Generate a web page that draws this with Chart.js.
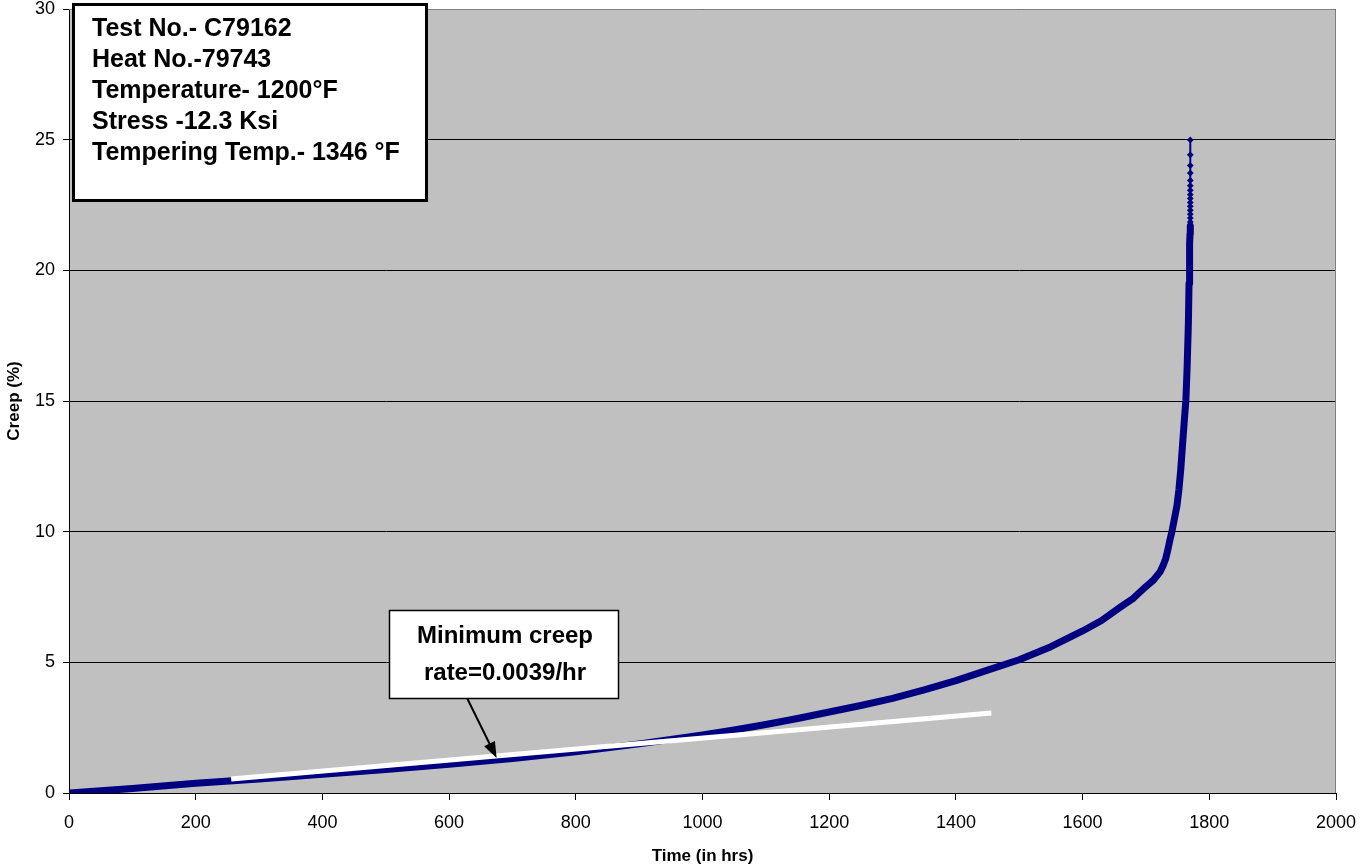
<!DOCTYPE html>
<html>
<head>
<meta charset="utf-8">
<script src="https://cdn.jsdelivr.net/npm/chart.js@4.4.1/dist/chart.umd.min.js"></script>
<style>
  html, body { margin: 0; padding: 0; background: #fff; }
  #wrap { width: 1361px; height: 867px; }
</style>
</head>
<body>
<div id="wrap"><canvas id="creepChart"></canvas></div>
<script>
// creep test readings: time (hrs) vs creep (%)
const hours = [0, 100, 200, 300, 400, 500, 600, 700, 800, 900, 1000, 1050, 1100, 1150, 1200, 1250,
    1300, 1350, 1400, 1450, 1500, 1550, 1600, 1630, 1659, 1680, 1700, 1712, 1722, 1727, 1731, 1735,
    1738, 1741, 1745, 1749, 1752, 1755, 1758, 1761, 1763, 1765, 1767, 1768, 1768.6, 1769.2, 1769.6, 1770,
    1770, 1770, 1770, 1770, 1770, 1770, 1770, 1770, 1770, 1770, 1770, 1770, 1770, 1770, 1770];
const creep = [0, 0.17, 0.37, 0.54, 0.72, 0.9, 1.1, 1.32, 1.58, 1.88, 2.22, 2.41, 2.62, 2.85, 3.1, 3.35,
    3.62, 3.95, 4.3, 4.7, 5.1, 5.6, 6.2, 6.6, 7.1, 7.45, 7.9, 8.15, 8.45, 8.7, 8.95, 9.35,
    9.7, 10, 10.5, 11.0, 11.6, 12.4, 13.4, 14.4, 15, 16.3, 18, 19.5, 20.4, 21, 21.4, 21.7,
    21.85, 22.0, 22.15, 22.3, 22.45, 22.6, 22.75, 22.9, 23.06, 23.24, 23.44, 23.72, 24.01, 24.42, 24.99];

// minimum creep rate tangent line
const trendHours = [256, 1456];
const trendCreep = [0.54, 3.06];

const infoLines = [
    'Test No.- C79162',
    'Heat No.-79743',
    'Temperature- 1200\u00B0F',
    'Stress -12.3 Ksi',
    'Tempering Temp.- 1346 \u00B0F'
];
const rateLines = ['Minimum creep', 'rate=0.0039/hr'];
const arrowTip = { x: 675, y: 1.34 };

const FONT = '"Liberation Sans", Arial, sans-serif';
const NAVY = '#000080';

const curveData = hours.map((h, i) => ({ x: h, y: creep[i] }));
const trendData = trendHours.map((h, i) => ({ x: h, y: trendCreep[i] }));

const plotBg = {
    id: 'plotBg',
    beforeDraw(chart) {
        const { ctx, chartArea: a } = chart;
        ctx.save();
        ctx.fillStyle = '#C0C0C0';
        ctx.fillRect(a.left, a.top, a.right - a.left, a.bottom - a.top);
        ctx.restore();
    },
    afterDraw(chart) {
        const { ctx, chartArea: a } = chart;
        ctx.save();
        ctx.strokeStyle = '#808080';
        ctx.lineWidth = 1;
        ctx.beginPath();
        ctx.moveTo(a.left, a.top + 0.5);
        ctx.lineTo(a.right - 0.5, a.top + 0.5);
        ctx.lineTo(a.right - 0.5, a.bottom);
        ctx.stroke();
        ctx.restore();
    }
};

const notes = {
    id: 'notes',
    afterDraw(chart) {
        const ctx = chart.ctx;
        const xs = chart.scales.x, ys = chart.scales.y;
        ctx.save();

        // test details box
        ctx.fillStyle = '#fff';
        ctx.fillRect(73, 4, 354, 197);
        ctx.strokeStyle = '#000';
        ctx.lineWidth = 3;
        ctx.strokeRect(73.5, 4.5, 353, 196);
        ctx.fillStyle = '#000';
        ctx.font = 'bold 25px ' + FONT;
        ctx.textBaseline = 'middle';
        ctx.textAlign = 'left';
        infoLines.forEach((t, i) => ctx.fillText(t, 92, 29 + i * 31));

        // callout arrow
        const x0 = 467, y0 = 698;
        const x1 = xs.getPixelForValue(arrowTip.x), y1 = ys.getPixelForValue(arrowTip.y);
        const ang = Math.atan2(y1 - y0, x1 - x0);
        ctx.strokeStyle = '#000';
        ctx.lineWidth = 2;
        ctx.beginPath();
        ctx.moveTo(x0, y0);
        ctx.lineTo(x1 - 12 * Math.cos(ang), y1 - 12 * Math.sin(ang));
        ctx.stroke();
        ctx.beginPath();
        ctx.moveTo(x1, y1);
        ctx.lineTo(x1 - 16 * Math.cos(ang) + 6 * Math.sin(ang), y1 - 16 * Math.sin(ang) - 6 * Math.cos(ang));
        ctx.lineTo(x1 - 16 * Math.cos(ang) - 6 * Math.sin(ang), y1 - 16 * Math.sin(ang) + 6 * Math.cos(ang));
        ctx.closePath();
        ctx.fillStyle = '#000';
        ctx.fill();

        // minimum creep rate box
        ctx.fillStyle = '#fff';
        ctx.fillRect(389, 610, 230, 89);
        ctx.lineWidth = 1.5;
        ctx.strokeRect(389.5, 610.5, 229, 88);
        ctx.fillStyle = '#000';
        ctx.font = 'bold 24px ' + FONT;
        ctx.textAlign = 'center';
        rateLines.forEach((t, i) => ctx.fillText(t, 505, 636 + i * 37));

        ctx.restore();
    }
};

new Chart(document.getElementById('creepChart'), {
    type: 'scatter',
    data: {
        datasets: [{
            label: 'Minimum creep rate',
            data: trendData,
            showLine: true,
            borderColor: '#fff',
            borderWidth: 5,
            pointRadius: 0,
            order: 0
        }, {
            label: 'Creep',
            data: curveData,
            showLine: true,
            borderColor: NAVY,
            backgroundColor: NAVY,
            borderWidth: 7,
            borderJoinStyle: 'round',
            borderCapStyle: 'round',
            segment: {
                borderWidth: ctx => ctx.p0.parsed.y >= 21.6 ? 2 : 7
            },
            pointStyle: 'rectRot',
            pointRadius: ctx => (ctx.raw && ctx.raw.y >= 21.6) ? 3.4 : 0,
            pointBorderWidth: 0,
            order: 1
        }]
    },
    options: {
        responsive: true,
        maintainAspectRatio: false,
        animation: false,
        layout: { padding: { top: 9, right: 25, left: 0, bottom: 0 } },
        plugins: {
            legend: { display: false },
            tooltip: { enabled: false }
        },
        scales: {
            x: {
                type: 'linear',
                min: 0,
                max: 2000,
                afterFit(scale) {
                    scale.height = 74;
                    scale.paddingLeft = 0;
                    scale.paddingRight = 0;
                },
                ticks: {
                    stepSize: 200,
                    color: '#000',
                    padding: 12,
                    callback: v => String(v),
                    font: { family: FONT, size: 18 }
                },
                grid: { drawOnChartArea: false, color: '#000', tickLength: 7 },
                border: { color: '#000' },
                title: {
                    display: true,
                    text: 'Time (in hrs)',
                    color: '#000',
                    padding: { top: 0, bottom: 0 },
                    font: { family: FONT, size: 17, weight: 'bold' }
                }
            },
            y: {
                min: 0,
                max: 30,
                afterFit(scale) {
                    scale.width = 69;
                    scale.paddingTop = 0;
                    scale.paddingBottom = 0;
                },
                ticks: {
                    stepSize: 5,
                    color: '#000',
                    padding: 8,
                    callback: v => String(v),
                    font: { family: FONT, size: 18 }
                },
                grid: { color: '#000', tickLength: 6 },
                border: { color: '#000' },
                title: {
                    display: true,
                    text: 'Creep (%)',
                    color: '#000',
                    padding: { top: 4, bottom: 0 },
                    font: { family: FONT, size: 17, weight: 'bold' }
                }
            }
        }
    },
    plugins: [plotBg, notes]
});
</script>
</body>
</html>
